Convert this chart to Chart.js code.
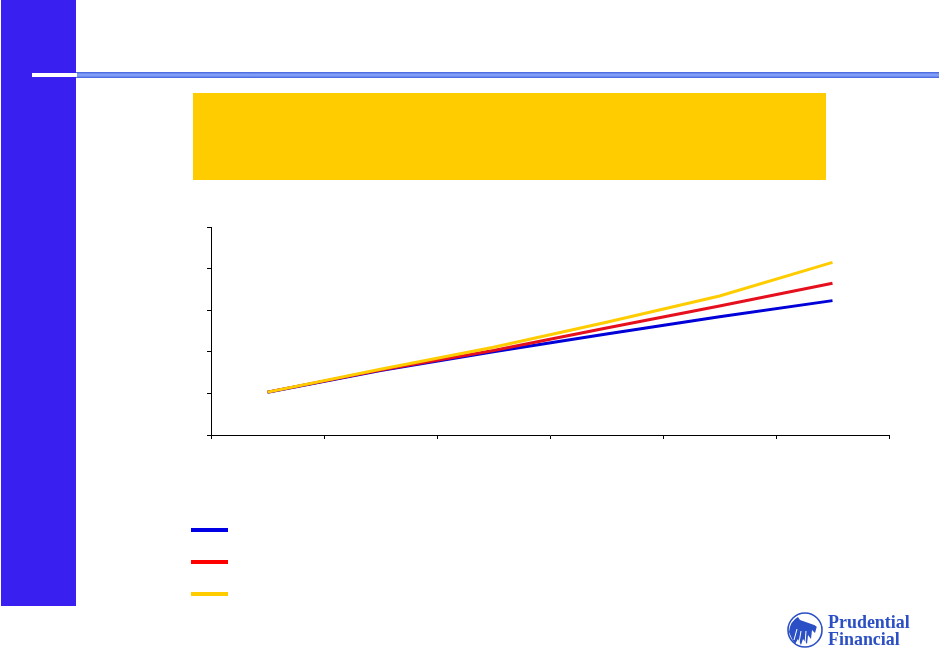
<!DOCTYPE html>
<html>
<head>
<meta charset="utf-8">
<style>
html,body{margin:0;padding:0;background:#fff;overflow:hidden}
#stage{position:relative;width:939px;height:649px;background:#fff;overflow:hidden}
#stage>*{position:absolute}
canvas{left:0;top:0}
.key{left:191px;width:37px;height:4px}
.brand{font-family:"Liberation Serif",serif;font-weight:bold;color:#2b4fc4;font-size:19.5px;line-height:17px;white-space:nowrap;left:828px;transform:scaleX(.92);transform-origin:left center}
</style>
</head>
<body>
<div id="stage">
  <div style="left:1px;top:0;width:75px;height:606px;background:#3a20f0"></div>
  <div style="left:76px;top:72px;width:863px;height:6px;background:linear-gradient(#3f5fdc,#7f9cf6 35%,#7f9cf6 65%,#3f5fdc)"></div>
  <div style="left:32px;top:73px;width:45px;height:4px;background:#fff"></div>
  <div style="left:193px;top:93px;width:633px;height:87px;background:#ffcc00"></div>
  <canvas id="c" width="939" height="649"></canvas>
  <div class="key" style="top:528px;background:#0000e6"></div>
  <div class="key" style="top:560px;background:#ff0000"></div>
  <div class="key" style="top:592px;background:#ffcc00"></div>
  <svg style="left:786px;top:612px" width="38" height="36" viewBox="0 0 38 36">
    <circle cx="19" cy="18" r="17" fill="#fff" stroke="#2b4fc4" stroke-width="1.6"/>
    <path d="M3 20 Q4 9 12 5 L14 8 L31 14 L29 21 L26 18 L25 27 L22 23 L21 32 L17 27 L15 33 L12 27 L9 32 L6 27 Z" fill="#2b4fc4"/>
    <path d="M12 3 Q24 2 35 14 L31 15 Q23 7 12 5 Z" fill="#fff"/>
    <path d="M8 28 L11 17 M13 31 L15 19 M19 32 L20 19" stroke="#fff" stroke-width="1"/>
  </svg>
  <div class="brand" style="top:613px">Prudential</div>
  <div class="brand" style="top:630px">Financial</div>
</div>
<script src="https://cdn.jsdelivr.net/npm/chart.js@4/dist/chart.umd.min.js"></script>
<script>
const categories = ["1", "2", "3", "4", "5", "6"];
const seriesBlue = [1.03, 1.55, 2.00, 2.43, 2.84, 3.23];
const seriesRed = [1.03, 1.56, 2.03, 2.57, 3.10, 3.65];
const seriesYellow = [1.03, 1.58, 2.11, 2.71, 3.34, 4.15];
const yMin = 0, yMax = 5, yStep = 1;

function lineSet(data, color) {
  return {data, borderColor: color, backgroundColor: color, borderWidth: 3, pointRadius: 0, tension: 0, fill: false, borderCapStyle: "butt"};
}
new Chart(document.getElementById("c"), {
  type: "line",
  data: {
    labels: categories,
    datasets: [
      Object.assign(lineSet(seriesYellow, "#ffcc00"), {order: 1}),
      Object.assign(lineSet(seriesRed, "#e60f1e"), {order: 2}),
      Object.assign(lineSet(seriesBlue, "#0000d8"), {order: 3})
    ]
  },
  options: {
    responsive: false,
    animation: false,
    layout: {padding: {left: 207, right: 50, top: 227, bottom: 210}},
    plugins: {legend: {display: false}, tooltip: {enabled: false}},
    scales: {
      x: {
        offset: true,
        grid: {offset: true, drawOnChartArea: false, color: "#000", tickLength: 4, tickColor: "#000"},
        border: {color: "#000", width: 1},
        ticks: {display: false}
      },
      y: {
        min: yMin, max: yMax,
        grid: {drawOnChartArea: false, color: "#000", tickLength: 4, tickColor: "#000"},
        border: {color: "#000", width: 1},
        ticks: {display: false, stepSize: yStep}
      }
    }
  }
});
</script>
</body>
</html>
